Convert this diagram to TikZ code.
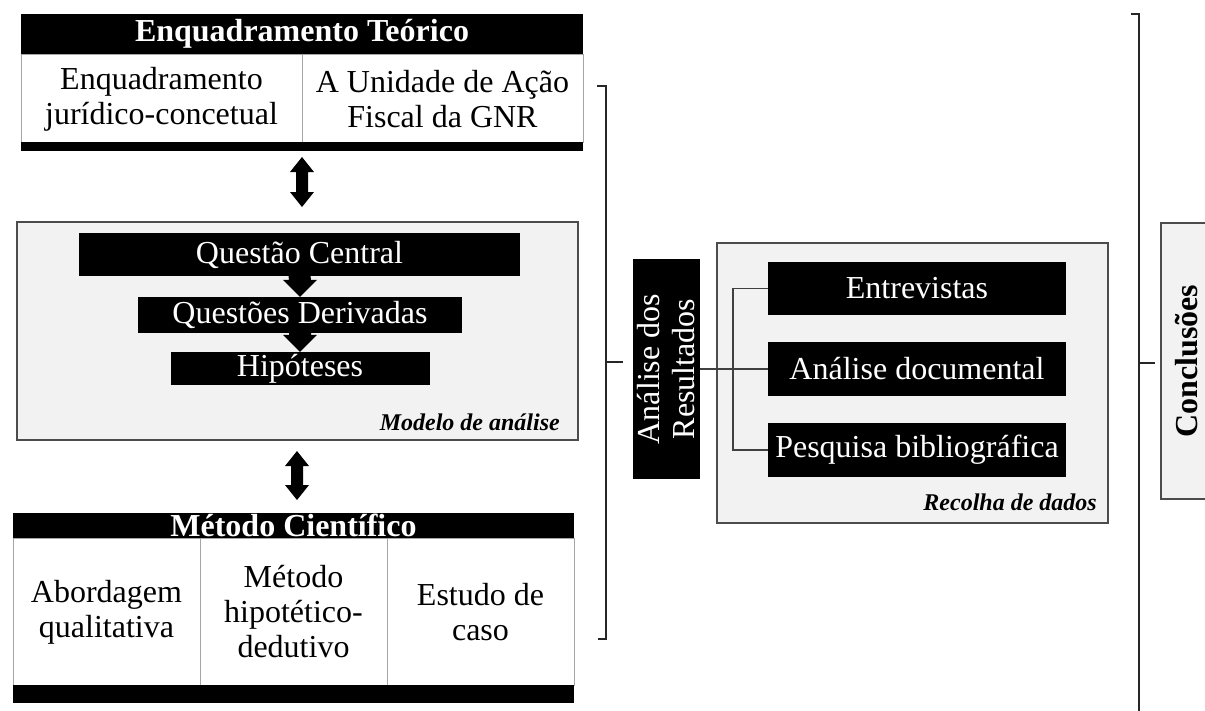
\documentclass[tikz,border=0pt]{standalone}
\usepackage{fontspec}
\setmainfont{Liberation Serif}
\usetikzlibrary{calc}
\def\dblarrow(#1)(#2){\fill[black] (#1) -- ($(#1)+(12,15)$) -- ($(#1)+(6,15)$) -- ($(#2)+(6,-15)$) -- ($(#2)+(12,-15)$) -- (#2) -- ($(#2)+(-12,-15)$) -- ($(#2)+(-6,-15)$) -- ($(#1)+(-6,15)$) -- ($(#1)+(-12,15)$) -- cycle;}
\def\blockdown(#1)(#2){\fill[black] ($(#1)+(-11,0)$) -- ($(#1)+(11,0)$) -- ($(#2)+(11,-17)$) -- ($(#2)+(17,-17)$) -- (#2) -- ($(#2)+(-17,-17)$) -- ($(#2)+(-11,-17)$) -- cycle;}
\tikzset{
	txt/.style={font=\fontsize{32pt}{35pt}\selectfont, align=center, inner sep=0pt},
	blackbox/.style={txt, fill=black, text=white},
	hdrbox/.style={blackbox, font=\fontsize{32pt}{35pt}\selectfont\bfseries},
	graybox/.style={fill=black!5, draw=black!70, line width=1.5pt},
	cellline/.style={draw=black!35, line width=1pt},
	bracketline/.style={draw=black!85, line width=2pt},
	conn/.style={draw=black!75, line width=1.5pt},
	boxtag/.style={font=\fontsize{24pt}{26pt}\selectfont\bfseries\itshape, inner sep=0pt}
}

\begin{document}
\begin{tikzpicture}[x=1pt, y=-1pt]
			%%%%% START %%%%%
			\useasboundingbox (0,0) rectangle (1205,710);
			
			% Enquadramento Teorico
			\draw[cellline, fill=white] (21,54) rectangle (583,142);
			\draw[cellline] (302,54) -- (302,142);
			\node[hdrbox, minimum width=562pt, minimum height=40pt] (et) at (302,34) {Enquadramento Teórico};
			\fill[black] (21,142) rectangle (583,151);
			\node[txt] (ejc) at (161.5,99) {Enquadramento\\jurídico-concetual};
			\node[txt] (uaf) at (442.5,99) {A Unidade de Ação\\Fiscal da GNR};
			
			\coordinate (a1t) at (302,157);
			\coordinate (a1b) at (302,207);
			\dblarrow(a1t)(a1b)
			
			% Modelo de analise
			\draw[graybox] (17,222) rectangle (578,440);
			\node[blackbox, minimum width=441pt, minimum height=43pt] (qc) at (299.5,254.5) {Questão Central};
			\node[blackbox, minimum width=324pt, minimum height=36pt] (qd) at (300,315) {Questões Derivadas};
			\node[blackbox, minimum width=259pt, minimum height=33pt] (hy) at (300,368.5) {Hipóteses};
			\blockdown(qc.south)(qd.north)
			\blockdown(qd.south)(hy.north)
			\node[boxtag, anchor=base east] (ma) at (560,430) {Modelo de análise};
			
			\coordinate (a2t) at (297,451);
			\coordinate (a2b) at (297,500);
			\dblarrow(a2t)(a2b)
			
			% Metodo Cientifico
			\draw[cellline, fill=white] (13,538) rectangle (574,685);
			\draw[cellline] (200,538) -- (200,685);
			\draw[cellline] (387,538) -- (387,685);
			\node[hdrbox, minimum width=561pt, minimum height=25pt] (mc) at (293.5,525.5) {Método Científico};
			\fill[black] (13,685) rectangle (574,703);
			\node[txt] (aq) at (106.5,612) {Abordagem\\qualitativa};
			\node[txt] (mhd) at (293.5,612) {Método\\hipotético-\\dedutivo};
			\node[txt] (ec) at (480.5,612) {Estudo de\\caso};
			
			\draw[bracketline] (597,86) -- (606,86) -- (606,639) -- (598,639);
			\draw[bracketline] (606,362) -- (623,362);
			
			% Recolha de dados
			\node[blackbox, rotate=90, minimum width=220pt, minimum height=67pt] (ar) at (666.5,369) {Análise dos\\Resultados};
			\draw[graybox] (717,243) rectangle (1108,523);
			\node[blackbox, minimum width=298pt, minimum height=53pt] (en) at (917,288.5) {Entrevistas};
			\node[blackbox, minimum width=298pt, minimum height=54pt] (ad) at (917,369) {Análise documental};
			\node[blackbox, minimum width=298pt, minimum height=54pt] (pb) at (917,450) {Pesquisa bibliográfica};
			\node[boxtag, anchor=base east] (rd) at (1097,510) {Recolha de dados};
			\draw[conn] (ar.south) -- (ad.west);
			\draw[conn] (en.west) -- ++(-35,0) |- (pb.west);
			
			\draw[bracketline] (1131,14) -- (1139,14) -- (1139,712);
			\draw[bracketline] (1139,363) -- (1155,363);
			
			\node[graybox, rotate=90, minimum width=276pt, minimum height=52pt, font=\fontsize{32pt}{35pt}\selectfont\bfseries] (co) at (1187,361) {Conclusões};
			%%%%% END %%%%%
\end{tikzpicture}
\end{document}
